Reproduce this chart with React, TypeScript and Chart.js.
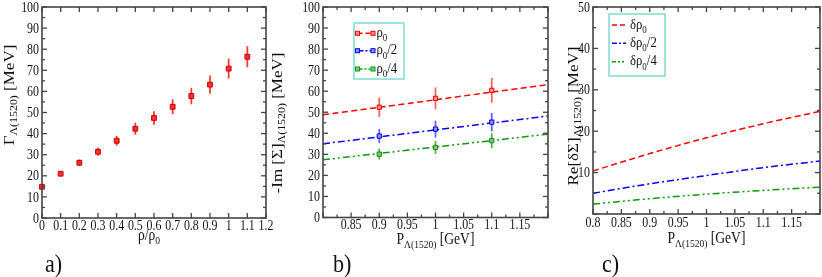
import React, { useEffect, useRef } from 'react';
import { Chart, registerables } from 'chart.js';
Chart.register(...registerables);

const FONT = "'Liberation Serif', 'Times New Roman', serif";
const SQ = 0.85;
const FRAME = '#444444';
const RED = '#ff0000';
const BLUE = '#0000ff';
const GREEN = '#0c9a0c';

// ---------- panel a ----------
const densityRatio = [0, 0.1, 0.2, 0.3, 0.4, 0.5, 0.6, 0.7, 0.8, 0.9, 1.0, 1.1];
const widthValues = [14.8, 21.0, 26.2, 31.4, 36.6, 42.3, 47.4, 52.7, 57.8, 63.2, 70.8, 76.4];
const widthErrors = [0.8, 0.5, 1.5, 1.9, 2.3, 2.8, 3.2, 3.5, 3.9, 4.3, 4.7, 5.0];
const xTickLabelsA = ['0', '0.1', '0.2', '0.3', '0.4', '0.5', '0.6', '0.7', '0.8', '0.9', '1', '1.1', '1.2'];
const yTickLabelsA = ['0', '10', '20', '30', '40', '50', '60', '70', '80', '90', '100'];
const yMinorA = [5, 15, 25, 35, 45, 55, 65, 75, 85, 95];

// ---------- panel b ----------
const momentumB = [0.9, 1.0, 1.1];
const imRho0 = [52.4, 56.6, 60.4];
const imRho0Err = [4.6, 5.2, 5.9];
const imRhoHalf = [38.7, 42.0, 45.3];
const imRhoHalfErr = [3.4, 4.0, 4.4];
const imRhoQuarter = [30.1, 33.3, 36.5];
const imRhoQuarterErr = [2.6, 3.1, 3.6];
const fitMomentum = [0.8, 1.2];
const fitRho0 = [48.8, 63.1];
const fitRhoHalf = [35.0, 48.2];
const fitRhoQuarter = [27.4, 39.6];
const xTickLabelsB = ['0.85', '0.9', '0.95', '1', '1.05', '1.1', '1.15'];
const yTickLabelsB = ['0', '10', '20', '30', '40', '50', '60', '70', '80', '90', '100'];

// ---------- panel c ----------
const momentumC = [0.8, 0.9, 1.0, 1.1, 1.2];
const reRho0 = [10.4, 14.6, 18.4, 21.8, 24.8];
const reRhoHalf = [5.0, 7.3, 9.3, 11.2, 12.8];
const reRhoQuarter = [2.4, 3.7, 4.8, 5.7, 6.5];
const xTickLabelsC = ['0.8', '0.85', '0.9', '0.95', '1', '1.05', '1.1', '1.15'];
const yTickLabelsC = ['10', '20', '30', '40', '50'];

const majorPBC = [0.8, 0.85, 0.9, 0.95, 1.0, 1.05, 1.1, 1.15, 1.2];
const minorPBC = [0.825, 0.875, 0.925, 0.975, 1.025, 1.075, 1.125, 1.175];
const yMajorC = [0, 10, 20, 30, 40, 50];
const yMinorC = [5, 15, 25, 35, 45];

type Part = [string, boolean];

function drawRich(
  ctx: CanvasRenderingContext2D,
  parts: Part[],
  x: number,
  y: number,
  size: number,
  align: 'left' | 'center' | 'right',
  rotate = false,
  subShift = 0.24
) {
  ctx.save();
  ctx.translate(x, y);
  if (rotate) {
    ctx.rotate(-Math.PI / 2);
    ctx.scale(1, SQ);
  } else {
    ctx.scale(SQ, 1);
  }
  ctx.textAlign = 'left';
  ctx.textBaseline = 'alphabetic';
  let w = 0;
  for (const [t, sub] of parts) {
    ctx.font = `${sub ? size * 0.7 : size}px ${FONT}`;
    w += ctx.measureText(t).width;
  }
  let cx = align === 'center' ? -w / 2 : align === 'right' ? -w : 0;
  for (const [t, sub] of parts) {
    ctx.font = `${sub ? size * 0.7 : size}px ${FONT}`;
    ctx.fillText(t, cx, sub ? size * subShift : 0);
    cx += ctx.measureText(t).width;
  }
  ctx.restore();
}

interface LegendItem {
  color: string;
  dash: number[];
  marker?: string;
  parts: Part[];
}

interface PanelCfg {
  id: string;
  xLabels: string[];
  yLabels: string[];
  xMajor: number[];
  xMinor: number[];
  yMajor: number[];
  yMinor: number[];
  xLabelBase: number;
  xTitle: Part[];
  xTitleX: number;
  xTitleY: number;
  yTitle: Part[];
  yTitleX: number;
  yTitleY: number;
  panel: string;
  panelX: number;
  legend?: { box: [number, number, number, number]; rows: number[]; lineX: [number, number]; textX: number; items: LegendItem[] };
}

const errorBarPlugin = {
  id: 'errorBars',
  beforeDatasetsDraw(chart: any) {
    const { ctx } = chart;
    const yScale = chart.scales.y;
    chart.data.datasets.forEach((ds: any, i: number) => {
      if (!ds.errors) return;
      const meta = chart.getDatasetMeta(i);
      ctx.save();
      ctx.strokeStyle = ds.errorColor;
      ctx.lineWidth = ds.errorWidth || 1.8;
      meta.data.forEach((pt: any, j: number) => {
        const v = ds.data[j].y;
        const e = ds.errors[j];
        ctx.beginPath();
        ctx.moveTo(pt.x, yScale.getPixelForValue(v - e));
        ctx.lineTo(pt.x, yScale.getPixelForValue(v + e));
        ctx.stroke();
      });
      ctx.restore();
    });
  },
};

function framePlugin(cfg: PanelCfg) {
  return {
    id: 'frame' + cfg.id,
    afterDraw(chart: any) {
      const { ctx, chartArea: a } = chart;
      const xs = chart.scales.x;
      const ys = chart.scales.y;
      ctx.save();
      ctx.strokeStyle = FRAME;
      ctx.lineWidth = 1.3;
      const seg = (x1: number, y1: number, x2: number, y2: number) => {
        ctx.beginPath();
        ctx.moveTo(x1, y1);
        ctx.lineTo(x2, y2);
        ctx.stroke();
      };
      const xt = (vals: number[], len: number) =>
        vals.forEach((v) => {
          const p = xs.getPixelForValue(v);
          seg(p, a.bottom, p, a.bottom - len);
          seg(p, a.top, p, a.top + len);
        });
      const yt = (vals: number[], len: number) =>
        vals.forEach((v) => {
          const p = ys.getPixelForValue(v);
          seg(a.left, p, a.left + len, p);
          seg(a.right, p, a.right - len, p);
        });
      xt(cfg.xMajor, 5);
      xt(cfg.xMinor, 3);
      yt(cfg.yMajor, 5);
      yt(cfg.yMinor, 3);
      ctx.lineWidth = 1.6;
      ctx.strokeRect(a.left, a.top, a.right - a.left, a.bottom - a.top);

      ctx.fillStyle = '#111';
      cfg.xLabels.forEach((l) => {
        drawRich(ctx, [[l, false]], xs.getPixelForValue(Number(l)), cfg.xLabelBase, 14, 'center');
      });
      cfg.yLabels.forEach((l) => {
        drawRich(ctx, [[l, false]], a.left - 3, ys.getPixelForValue(Number(l)) + 4.6, 14, 'right');
      });
      drawRich(ctx, cfg.xTitle, cfg.xTitleX, cfg.xTitleY, 16, 'center');
      drawRich(ctx, cfg.yTitle, cfg.yTitleX, cfg.yTitleY, 17, 'center', true);
      drawRich(ctx, [[cfg.panel, false]], cfg.panelX, 272, 26, 'left');

      if (cfg.legend) {
        const L = cfg.legend;
        ctx.strokeStyle = '#7fdcd4';
        ctx.lineWidth = 1.5;
        ctx.strokeRect(L.box[0], L.box[1], L.box[2], L.box[3]);
        L.items.forEach((it, i) => {
          const ry = L.rows[i];
          ctx.save();
          ctx.strokeStyle = it.color;
          ctx.lineWidth = 1.5;
          ctx.setLineDash(it.dash);
          seg(L.lineX[0], ry, L.lineX[1], ry);
          ctx.restore();
          if (it.marker) {
            [L.lineX[0], L.lineX[1]].forEach((mx) => {
              ctx.save();
              ctx.fillStyle = it.marker!;
              ctx.strokeStyle = it.color;
              ctx.lineWidth = 1;
              ctx.fillRect(mx - 2, ry - 2, 4, 4);
              ctx.strokeRect(mx - 2, ry - 2, 4, 4);
              ctx.restore();
            });
          }
          ctx.fillStyle = '#111';
          drawRich(ctx, it.parts, L.textX, ry + 3.5, 15, 'left', false, 0.3);
        });
      }
      ctx.restore();
    },
  };
}

function baseOptions(area: { l: number; r: number; t: number; b: number }, xr: [number, number], yr: [number, number]) {
  return {
    animation: false as const,
    responsive: false,
    devicePixelRatio: 1,
    events: [] as any[],
    layout: { padding: { left: area.l, right: 822 - area.r, top: area.t, bottom: 277 - area.b } },
    scales: {
      x: { type: 'linear' as const, min: xr[0], max: xr[1], display: false },
      y: { type: 'linear' as const, min: yr[0], max: yr[1], display: false },
    },
    plugins: { legend: { display: false }, tooltip: { enabled: false } },
  };
}

const pts = (xs: number[], ys: number[]) => xs.map((x, i) => ({ x, y: ys[i] }));

function configA(): any {
  const cfg: PanelCfg = {
    id: 'a',
    xLabels: xTickLabelsA,
    yLabels: yTickLabelsA,
    xMajor: xTickLabelsA.map(Number),
    xMinor: [],
    yMajor: yTickLabelsA.map(Number),
    yMinor: yMinorA,
    xLabelBase: 229.5,
    xTitle: [['ρ/ρ', false], ['0', true]],
    xTitleX: 149,
    xTitleY: 240,
    yTitle: [['Γ', false], ['Λ(1520)', true], [' [MeV]', false]],
    yTitleX: 13.5,
    yTitleY: 95,
    panel: 'a)',
    panelX: 45,
  };
  return {
    type: 'scatter',
    data: {
      datasets: [
        {
          data: pts(densityRatio, widthValues),
          errors: widthErrors,
          errorColor: 'rgba(255,20,20,0.85)',
          errorWidth: 1.8,
          pointStyle: 'rect',
          pointRadius: 3.4,
          backgroundColor: '#ff3030',
          borderColor: '#c80000',
          borderWidth: 1,
          showLine: false,
          clip: false,
        },
      ],
    },
    options: baseOptions({ l: 42, r: 266, t: 7, b: 218 }, [0, 1.2], [0, 100]),
    plugins: [errorBarPlugin, framePlugin(cfg)],
  };
}

function configB(): any {
  const cfg: PanelCfg = {
    id: 'b',
    xLabels: xTickLabelsB,
    yLabels: yTickLabelsB,
    xMajor: majorPBC,
    xMinor: minorPBC,
    yMajor: yTickLabelsB.map(Number),
    yMinor: yMinorA,
    xLabelBase: 229,
    xTitle: [['P', false], ['Λ(1520)', true], [' [GeV]', false]],
    xTitleX: 435.5,
    xTitleY: 244,
    yTitle: [['-Im [Σ]', false], ['Λ(1520)', true], [' [MeV]', false]],
    yTitleX: 282,
    yTitleY: 123,
    panel: 'b)',
    panelX: 333,
    legend: {
      box: [354, 23, 50, 56],
      rows: [33.3, 50.7, 69],
      lineX: [357.5, 373],
      textX: 376.5,
      items: [
        { color: RED, dash: [5, 3], marker: '#ff9090', parts: [['ρ', false], ['0', true]] },
        { color: BLUE, dash: [6, 2, 2, 2], marker: '#9090ff', parts: [['ρ', false], ['0', true], ['/2', false]] },
        { color: GREEN, dash: [5, 2, 2, 2, 2, 2], marker: '#80c880', parts: [['ρ', false], ['0', true], ['/4', false]] },
      ],
    },
  };
  const pointSet = (ys: number[], err: number[], color: string, fill: string, errColor: string) => ({
    data: pts(momentumB, ys),
    errors: err,
    errorColor: errColor,
    errorWidth: 1.8,
    pointStyle: 'rect',
    pointRadius: 3,
    backgroundColor: fill,
    borderColor: color,
    borderWidth: 1,
    showLine: false,
  });
  const fitLine = (ys: number[], color: string, dash: number[]) => ({
    data: pts(fitMomentum, ys),
    showLine: true,
    borderColor: color,
    borderWidth: 1.5,
    borderDash: dash,
    pointRadius: 0,
    fill: false,
  });
  return {
    type: 'scatter',
    data: {
      datasets: [
        pointSet(imRho0, imRho0Err, '#e00000', '#ff9090', 'rgba(255,60,60,0.8)'),
        pointSet(imRhoHalf, imRhoHalfErr, '#0000e0', '#9090ff', 'rgba(60,60,255,0.8)'),
        pointSet(imRhoQuarter, imRhoQuarterErr, '#108a10', '#80c880', 'rgba(40,160,40,0.8)'),
        fitLine(fitRho0, RED, [6, 3.5]),
        fitLine(fitRhoHalf, BLUE, [7, 3, 2, 3]),
        fitLine(fitRhoQuarter, GREEN, [7, 3, 2, 3, 2, 3]),
      ],
    },
    options: baseOptions({ l: 323, r: 548, t: 7, b: 217.5 }, [0.8, 1.2], [0, 100]),
    plugins: [errorBarPlugin, framePlugin(cfg)],
  };
}

function configC(): any {
  const cfg: PanelCfg = {
    id: 'c',
    xLabels: xTickLabelsC,
    yLabels: yTickLabelsC,
    xMajor: majorPBC,
    xMinor: minorPBC,
    yMajor: yMajorC,
    yMinor: yMinorC,
    xLabelBase: 226.5,
    xTitle: [['P', false], ['Λ(1520)', true], [' [GeV]', false]],
    xTitleX: 706.5,
    xTitleY: 243,
    yTitle: [['Re[δΣ]', false], ['Λ(1520)', true], [' [MeV]', false]],
    yTitleX: 578,
    yTitleY: 116,
    panel: 'c)',
    panelX: 602,
    legend: {
      box: [609, 14, 56, 62],
      rows: [25, 43.3, 61.7],
      lineX: [612, 626],
      textX: 630,
      items: [
        { color: RED, dash: [5, 3], parts: [['δρ', false], ['0', true]] },
        { color: BLUE, dash: [5, 2, 2, 2], parts: [['δρ', false], ['0', true], ['/2', false]] },
        { color: GREEN, dash: [4, 2, 2, 2, 2, 2], parts: [['δρ', false], ['0', true], ['/4', false]] },
      ],
    },
  };
  const curve = (ys: number[], color: string, dash: number[]) => ({
    data: pts(momentumC, ys),
    showLine: true,
    borderColor: color,
    borderWidth: 1.5,
    borderDash: dash,
    pointRadius: 0,
    cubicInterpolationMode: 'monotone',
    fill: false,
  });
  return {
    type: 'scatter',
    data: {
      datasets: [
        curve(reRho0, RED, [6, 3.5]),
        curve(reRhoHalf, BLUE, [7, 3, 2, 3]),
        curve(reRhoQuarter, GREEN, [7, 3, 2, 3, 2, 3]),
      ],
    },
    options: baseOptions({ l: 593, r: 820, t: 7, b: 214 }, [0.8, 1.2], [0, 50]),
    plugins: [framePlugin(cfg)],
  };
}

export default function App() {
  const refA = useRef<HTMLCanvasElement>(null);
  const refB = useRef<HTMLCanvasElement>(null);
  const refC = useRef<HTMLCanvasElement>(null);
  useEffect(() => {
    const charts = [
      new Chart(refA.current!, configA()),
      new Chart(refB.current!, configB()),
      new Chart(refC.current!, configC()),
    ];
    return () => charts.forEach((c) => c.destroy());
  }, []);
  const style: React.CSSProperties = { position: 'absolute', left: 0, top: 0, width: 822, height: 277 };
  return (
    <div style={{ position: 'fixed', left: 0, top: 0, width: 822, height: 277, background: '#fff' }}>
      <canvas ref={refA} width={822} height={277} style={style} />
      <canvas ref={refB} width={822} height={277} style={style} />
      <canvas ref={refC} width={822} height={277} style={style} />
    </div>
  );
}
